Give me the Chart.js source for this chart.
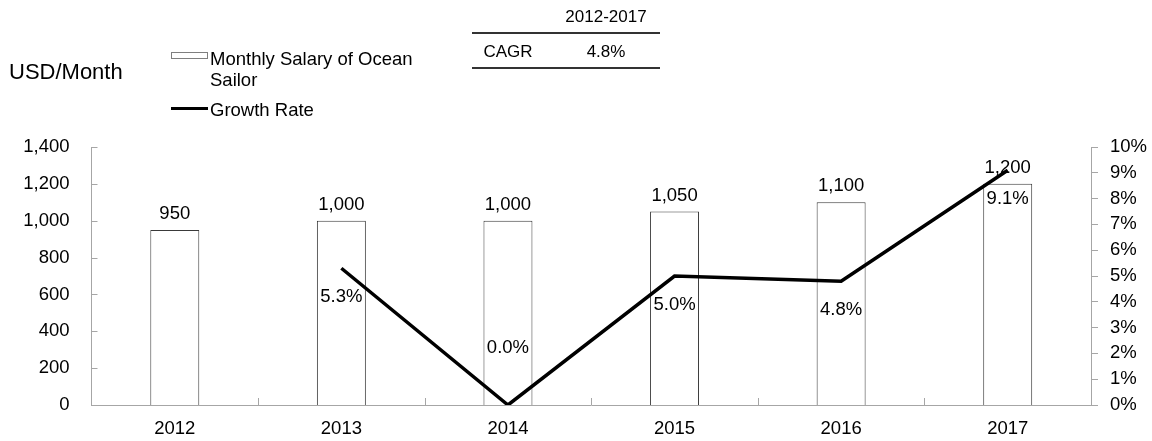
<!DOCTYPE html>
<html>
<head>
<meta charset="utf-8">
<script src="https://cdn.jsdelivr.net/npm/chart.js@4"></script>
<style>
	body { margin: 0; background: #fff; }
	#wrap { position: relative; width: 1152px; height: 441px; font-family: "Liberation Sans", Arial, sans-serif; color: #000; }
	#myChart { position: absolute; left: 0; top: 0; }
	.txt { position: absolute; white-space: nowrap; }
	.unit { left: 9px; top: 61px; font-size: 22px; line-height: 22px; }
	.leg { left: 210px; font-size: 18.5px; line-height: 21px; }
	.legBox { position: absolute; left: 171px; top: 52px; width: 35px; height: 5px; border: 1px solid #7f7f7f; background: #fff; }
	.legLine { position: absolute; left: 171px; top: 107px; width: 37px; height: 3px; background: #000; }
	.rule { position: absolute; left: 472px; width: 188px; height: 2px; background: #333; }
	.tbl { font-size: 17px; line-height: 17px; text-align: center; }
</style>
</head>
<body>
<div id="wrap">
	<canvas id="myChart" width="1152" height="441"></canvas>
	<div class="txt unit">USD/Month</div>
	<div class="legBox"></div>
	<div class="txt leg" style="top:48px">Monthly Salary of Ocean<br>Sailor</div>
	<div class="legLine"></div>
	<div class="txt leg" style="top:99px">Growth Rate</div>
	<div class="txt tbl" style="left:560px; width:92px; top:8px">2012-2017</div>
	<div class="rule" style="top:32px"></div>
	<div class="txt tbl" style="left:478px; width:60px; top:43px">CAGR</div>
	<div class="txt tbl" style="left:576px; width:60px; top:43px">4.8%</div>
	<div class="rule" style="top:67px"></div>
</div>
<script>
const years = ["2012", "2013", "2014", "2015", "2016", "2017"];
const salary = [950, 1000, 1000, 1050, 1100, 1200];
const growthRate = [null, 5.3, 0.0, 5.0, 4.8, 9.1];
const salaryTicks = [0, 200, 400, 600, 800, 1000, 1200, 1400];
const rateTicks = [0, 1, 2, 3, 4, 5, 6, 7, 8, 9, 10];

const FONT = '"Liberation Sans", Arial, sans-serif';
const AXIS_GREY = "#a6a6a6";

// inward tick marks on the left and bottom axes
const innerTicks = {
	id: "innerTicks",
	afterDraw(chart) {
		const ctx = chart.ctx;
		const x = chart.scales.x;
		const y = chart.scales.y;
		ctx.save();
		ctx.strokeStyle = AXIS_GREY;
		ctx.lineWidth = 1;
		ctx.beginPath();
		salaryTicks.forEach((v) => {
			const py = Math.round(y.getPixelForValue(v)) + 0.5;
			ctx.moveTo(y.right, py);
			ctx.lineTo(y.right + 6, py);
		});
		for (let i = 0; i < years.length - 1; i++) {
			const px = Math.round((x.getPixelForValue(i) + x.getPixelForValue(i + 1)) / 2) + 0.5;
			ctx.moveTo(px, x.top);
			ctx.lineTo(px, x.top - 7);
		}
		ctx.stroke();
		ctx.restore();
	},
};

// value labels for bars and line
const valueLabels = {
	id: "valueLabels",
	afterDatasetsDraw(chart) {
		const ctx = chart.ctx;
		ctx.save();
		ctx.fillStyle = "#000";
		ctx.font = "18.5px " + FONT;
		ctx.textAlign = "center";
		ctx.textBaseline = "alphabetic";

		chart.getDatasetMeta(0).data.forEach((bar, i) => {
			ctx.fillText(salary[i].toLocaleString("en-US"), bar.x, bar.y - 11);
		});

		chart.getDatasetMeta(1).data.forEach((pt, i) => {
			if (growthRate[i] === null) return;
			const txt = growthRate[i].toFixed(1) + "%";
			const below = pt.y + 40 < chart.chartArea.bottom;
			ctx.fillText(txt, pt.x, below ? pt.y + 34 : pt.y - 52);
		});
		ctx.restore();
	},
};

const ctx = document.getElementById("myChart").getContext("2d");

new Chart(ctx, {
	data: {
		labels: years,
		datasets: [
			{
				type: "bar",
				label: "Monthly Salary of Ocean Sailor",
				data: salary,
				yAxisID: "y",
				backgroundColor: "#ffffff",
				borderColor: "#3a3a3a",
				borderWidth: 1,
				barPercentage: 0.294,
				categoryPercentage: 1,
				order: 2,
			},
			{
				type: "line",
				label: "Growth Rate",
				data: growthRate,
				yAxisID: "y1",
				borderColor: "#000000",
				borderWidth: 3.5,
				pointRadius: 0,
				tension: 0,
				order: 1,
			},
		],
	},
	options: {
		responsive: false,
		animation: false,
		layout: {
			padding: { top: 147, left: 0, right: 0, bottom: 0 },
		},
		plugins: {
			legend: { display: false },
			tooltip: { enabled: false },
		},
		scales: {
			x: {
				offset: true,
				grid: { display: false },
				border: { color: AXIS_GREY, width: 1 },
				ticks: { color: "#000", padding: 5, font: { size: 18.5, family: FONT } },
				afterFit: (scale) => { scale.height = 36; },
			},
			y: {
				position: "left",
				min: 0,
				max: 1400,
				grid: { display: false },
				border: { color: AXIS_GREY, width: 1 },
				afterBuildTicks: (scale) => { scale.ticks = salaryTicks.map((v) => ({ value: v })); },
				ticks: {
					color: "#000",
					padding: 14,
					font: { size: 18.5, family: FONT },
					callback: (v) => v.toLocaleString("en-US"),
				},
				afterFit: (scale) => { scale.width = 91.5; },
			},
			y1: {
				position: "right",
				min: 0,
				max: 10,
				grid: { display: true, drawOnChartArea: false, drawTicks: true, tickLength: 7, color: AXIS_GREY },
				border: { color: AXIS_GREY, width: 1 },
				afterBuildTicks: (scale) => { scale.ticks = rateTicks.map((v) => ({ value: v })); },
				ticks: {
					color: "#000",
					padding: 12,
					font: { size: 18.5, family: FONT },
					callback: (v) => v + "%",
				},
				afterFit: (scale) => { scale.width = 61; },
			},
		},
	},
	plugins: [innerTicks, valueLabels],
});
</script>
</body>
</html>
